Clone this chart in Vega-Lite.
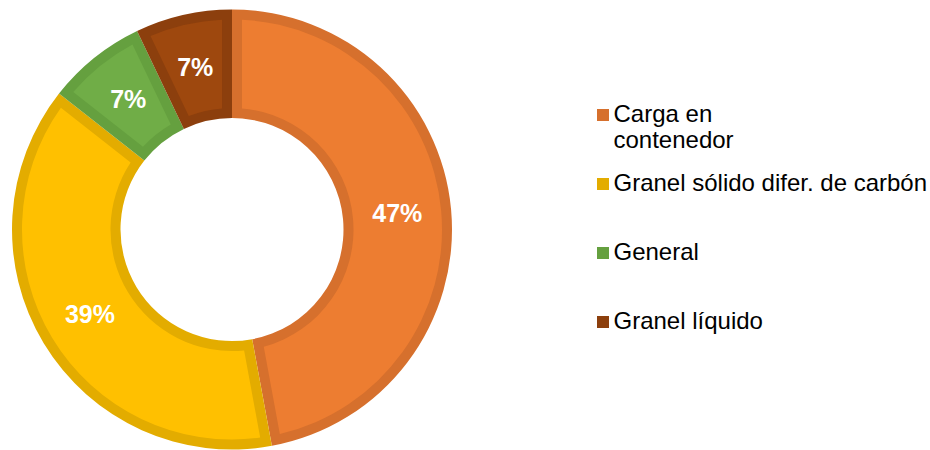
{
  "$schema": "https://vega.github.io/schema/vega-lite/v6.json",
  "width": 464,
  "height": 441,
  "padding": {"left": 0, "top": 9, "right": 0, "bottom": 0},
  "autosize": {"type": "pad"},
  "background": "white",
  "data": {
    "values": [
      {"idx": 1, "cat": "Carga en contenedor", "value": 47.1, "label": "47%"},
      {"idx": 2, "cat": "Granel sólido difer. de carbón", "value": 38.5, "label": "39%"},
      {"idx": 3, "cat": "General", "value": 7.3, "label": "7%"},
      {"idx": 4, "cat": "Granel líquido", "value": 7.1, "label": "7%"}
    ]
  },
  "encoding": {
    "theta": {"field": "value", "type": "quantitative", "stack": true},
    "order": {"field": "idx", "type": "quantitative"}
  },
  "layer": [
    {
      "mark": {"type": "arc", "radius": 220, "radius2": 111.5},
      "encoding": {
        "color": {
          "field": "cat",
          "type": "nominal",
          "scale": {
            "domain": ["Carga en contenedor", "Granel sólido difer. de carbón", "General", "Granel líquido"],
            "range": ["#D6702D", "#E3AC00", "#65A03F", "#8C3F0D"]
          },
          "legend": {
            "title": null,
            "orient": "none",
            "legendX": 591,
            "legendY": 94,
            "padding": 0,
            "symbolType": "square",
            "symbolSize": 144,
            "symbolStrokeWidth": 0,
            "labelFont": "Liberation Sans",
            "labelFontSize": 24,
            "labelColor": "#000000",
            "labelOffset": -1.5,
            "labelLimit": 400,
            "rowPadding": 19,
            "labelExpr": "datum.label == 'Carga en contenedor' ? ['Carga en', 'contenedor'] : [datum.label, '']",
            "encode": {
              "labels": {"update": {"lineHeight": {"value": 26}}}
            }
          }
        }
      }
    },
    {
      "mark": {"type": "arc", "radius": 210, "radius2": 121.5, "padAngle": 0.0824},
      "encoding": {
        "fill": {
          "field": "cat",
          "type": "nominal",
          "scale": {
            "domain": ["Carga en contenedor", "Granel sólido difer. de carbón", "General", "Granel líquido"],
            "range": ["#ED7D31", "#FFC000", "#70AD47", "#9E480E"]
          },
          "legend": null
        }
      }
    },
    {
      "mark": {"type": "text", "radius": 166, "fontSize": 25, "fontWeight": "bold", "font": "Liberation Sans", "fill": "#FFFFFF"},
      "encoding": {"text": {"field": "label"}}
    }
  ],
  "config": {"view": {"stroke": null}}
}
